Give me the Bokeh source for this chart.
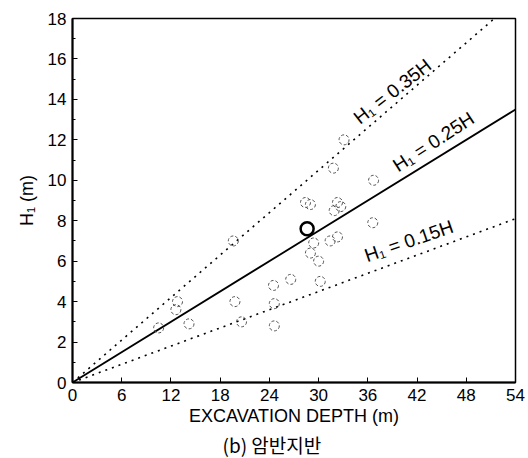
from bokeh.plotting import figure
from bokeh.models import ColumnDataSource, Range1d, FixedTicker, Title
from bokeh.core.properties import value
from bokeh.embed import file_html
from bokeh.resources import INLINE

# data points (excavation depth m, H1 m)
depth = [10.5, 12.8, 12.6, 14.2, 19.8, 20.6, 24.5, 24.6, 24.6, 26.6,
         29.0, 31.9, 29.4, 31.4, 29.0, 30.0, 30.2, 33.1, 36.7, 32.7,
         36.6, 32.3, 19.6, 31.8, 28.4, 32.3]
h1 = [2.7, 4.0, 3.6, 2.9, 4.0, 3.0, 4.8, 3.9, 2.8, 5.1,
      8.8, 8.5, 6.9, 7.0, 6.4, 6.0, 5.0, 12.0, 10.0, 8.7,
      7.9, 7.2, 7.0, 10.6, 8.9, 8.9]
bold_depth = [28.6]
bold_h1 = [7.6]

# envelope lines H1 = k * H
ratios = [0.35, 0.25, 0.15]
line_styles = ["dotted", "solid", "dotted"]
line_x = [0, 54]
line_labels = ["H\u2081 = 0.35H", "H\u2081 = 0.25H", "H\u2081 = 0.15H"]
label_x = [39.0, 44.0, 41.0]
label_y = [14.4, 11.9, 7.0]
label_angle = [38, 33, 19]

x_ticks = [0, 6, 12, 18, 24, 30, 36, 42, 48, 54]
y_ticks = [0, 2, 4, 6, 8, 10, 12, 14, 16, 18]
y_minor = [1, 3, 5, 7, 9, 11, 13, 15, 17]

FONT = "Liberation Sans"

p = figure(width=528, height=458, output_backend="svg", toolbar_location=None,
           x_range=Range1d(0, 54), y_range=Range1d(0, 18),
           min_border_left=72, min_border_right=13, min_border_top=18,
           min_border_bottom=76)
p.grid.visible = False
p.outline_line_color = "black"
p.outline_line_width = 1.5
p.background_fill_color = "white"
p.border_fill_color = "white"

for k, st in zip(ratios, line_styles):
    ys = [k * x for x in line_x]
    if st == "solid":
        p.line(line_x, ys, line_color="black", line_width=1.8)
    else:
        p.line(line_x, ys, line_color="black", line_width=1.6, line_dash="2 5")

p.scatter(depth, h1, marker="circle", size=10, fill_color=None,
          line_color="#555555", line_width=1.0, line_dash="3 2")
p.scatter(bold_depth, bold_h1, marker="circle", size=13, fill_color=None,
          line_color="black", line_width=2.5)

src = ColumnDataSource(dict(x=label_x, y=label_y, t=line_labels, a=label_angle))
p.text(x="x", y="y", text="t", angle="a", angle_units="deg", source=src,
       text_font=value(FONT), text_font_size="19px", text_align="center",
       text_baseline="middle", text_color="black")

for ax in (p.xaxis[0], p.yaxis[0]):
    ax.axis_line_width = 2
    ax.major_tick_in = 5
    ax.major_tick_out = 0
    ax.minor_tick_in = 3
    ax.minor_tick_out = 0
    ax.major_label_text_font = FONT
    ax.major_label_text_font_size = "17px"
    ax.major_label_text_color = "black"
    ax.axis_label_text_font = FONT
    ax.axis_label_text_font_size = "18px"
    ax.axis_label_text_font_style = "normal"
    ax.axis_label_text_color = "black"
    ax.major_label_standoff = 6

p.xaxis[0].ticker = FixedTicker(ticks=x_ticks)
p.yaxis[0].ticker = FixedTicker(ticks=y_ticks, minor_ticks=y_minor)
p.xaxis[0].axis_label = "EXCAVATION DEPTH (m)"
p.yaxis[0].axis_label = "H\u2081 (m)"
p.xaxis[0].axis_label_standoff = 2
p.yaxis[0].axis_label_standoff = 8

cap = Title(text="(b) 암반지반", align="left", text_font="Noto Sans CJK KR",
            text_font_size="19px", text_font_style="normal", text_color="black",
            standoff=0, offset=150)
p.add_layout(cap, "below")

open("out.html", "w").write(file_html(p, INLINE))
